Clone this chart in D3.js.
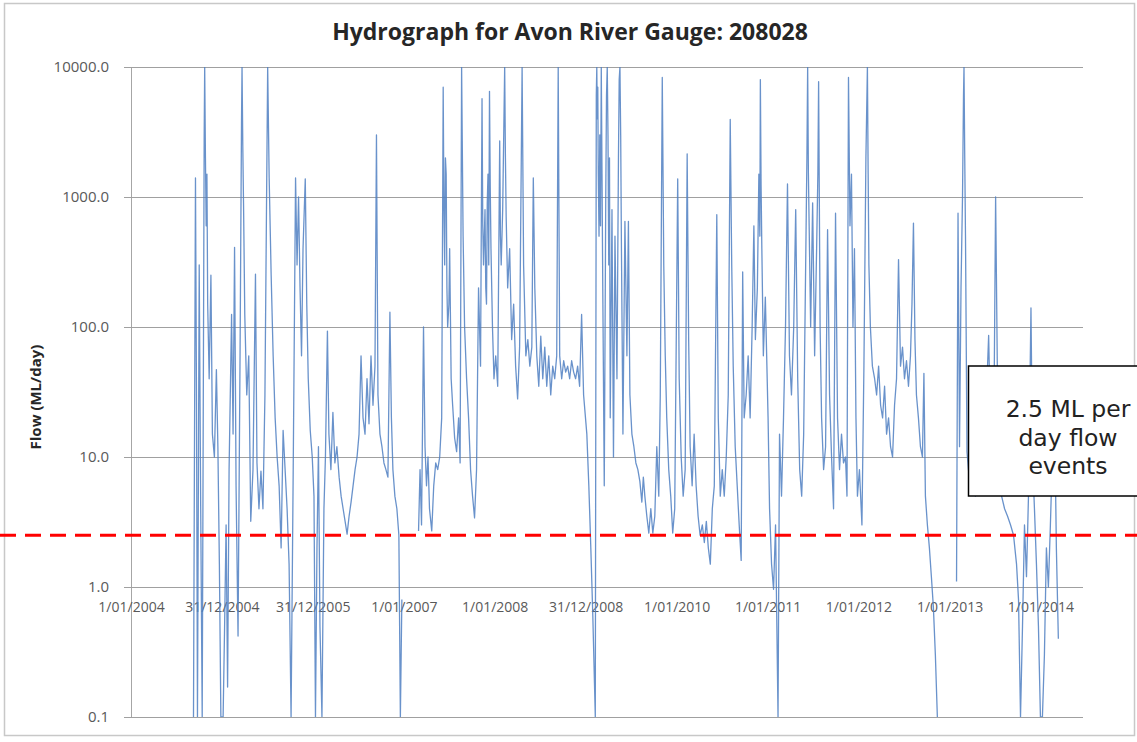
<!DOCTYPE html>
<html>
<head>
<meta charset="utf-8">
<script src="https://cdn.jsdelivr.net/npm/d3@7"></script>
<style>
  html, body { margin: 0; padding: 0; background: #fff; }
  svg { display: block; }
</style>
</head>
<body>
<svg id="chart" width="1137" height="742"></svg>
<script>
// ---- Data ----
const titleText = "Hydrograph for Avon River Gauge: 208028";
const yAxisTitle = "Flow (ML/day)";
const yTickValues = [0.1, 1, 10, 100, 1000, 10000];
const yTickLabels = ["0.1", "1.0", "10.0", "100.0", "1000.0", "10000.0"];
const xTickLabels = ["1/01/2004", "31/12/2004", "31/12/2005", "1/01/2007", "1/01/2008",
  "31/12/2008", "1/01/2010", "1/01/2011", "1/01/2012", "1/01/2013", "1/01/2014"];
const thresholdValue = 2.5;
const annotationLines = ["2.5 ML per", "day flow", "events"];

// daily flow (ML/day) samples per year: [MM-DD, flow]; null = no record
const flow2004 = [["09-08",0.1],["09-16",1400],["09-20",30],["09-24",0.1],["10-01",300],["10-07",4],
  ["10-13",0.1],["10-21",3000],["10-23",10000],["10-26",2000],["10-29",600],["11-01",1500],["11-04",150],
  ["11-10",40],["11-17",250],["11-23",15],
  ["12-01",10],["12-09",47],["12-15",12],["12-21",1.5],["12-27",0.1]];
const flow2005 = [["01-05",0.1],["01-11",0.5],["01-17",3],["01-23",0.17],["01-29",8],["02-08",125],
  ["02-14",15],["02-20",410],["02-26",6],["03-06",0.42],["03-14",60],["03-20",4000],["03-22",10000],
  ["03-25",2500],["03-28",900],
  ["04-02",125],["04-10",30],["04-18",60],["04-26",3.2],["05-05",8],["05-15",255],["05-21",9],
  ["05-29",4],["06-06",7.8],["06-14",4],["06-22",30],["07-03",10000],["07-09",1400],["07-17",250],
  ["07-25",60],["08-02",20],["08-10",10],["08-18",6],["08-26",2.0],["09-03",16],["09-11",8],
  ["09-19",4],["09-27",1.5],["10-05",0.1],["10-13",6],["10-23",1400],["10-29",300],["11-04",1000],
  ["11-10",200],["11-16",60],["11-22",400],["12-01",1380],["12-07",150],["12-13",40],["12-21",16],
  ["12-29",10]];
const flow2006 = [["01-05",5],["01-11",0.1],["01-17",2],["01-23",12],["01-29",0.5],["02-06",0.1],
  ["02-14",4],["02-20",10],["02-28",93],["03-06",15],["03-14",8],["03-22",22],["03-30",9],["04-07",12],
  ["04-16",7],["04-24",5],["05-02",4],["05-10",3.2],["05-18",2.55],["05-26",3.5],["06-03",4.5],
  ["06-11",6],["06-19",8],["06-27",10],["07-05",15],["07-13",60],["07-21",20],["07-29",15],["08-06",40],
  ["08-14",18],["08-22",60],["08-30",25],["09-07",50],["09-13",3000],["09-19",30],["09-27",15],
  ["10-05",12],["10-13",9],["10-21",8],["10-29",7],["11-06",130],["11-12",20],["11-18",8],["11-26",5],
  ["12-04",4],["12-12",2.5],["12-18",0.1],["12-24",0.8]];
const flow2007 = [["01-03",null],["03-01",2.7],["03-07",8],["03-13",3],["03-21",100],["03-27",12],
  ["04-02",6],["04-08",10],["04-14",4],["04-23",2.7],["05-01",6],["05-09",9],["05-17",8],["05-25",10],
  ["06-02",20],["06-08",7000],["06-11",800],["06-14",300],["06-17",2000],["06-20",1500],["06-23",200],
  ["06-26",100],["07-01",150],["07-04",400],["07-10",40],
  ["07-16",25],["07-24",14],["08-01",11],["08-09",20],["08-15",9],["08-21",10000],["08-27",500],
  ["09-02",100],["09-10",40],["09-18",20],["09-26",8],["10-04",5],["10-12",3.4],["10-20",8],["10-28",200],
  ["11-05",50],["11-11",5700],["11-14",600],["11-17",300],["11-23",800],["11-26",200],["11-29",150],
  ["12-02",900],["12-05",1500],["12-08",300],["12-11",6500],["12-14",1200],
  ["12-17",400],["12-23",100],["12-29",40]];
const flow2008 = [["01-05",60],["01-13",35],["01-21",2700],["01-24",500],["01-27",300],["02-02",800],
  ["02-10",10000],["02-13",2000],
  ["02-16",700],["02-22",200],["03-01",400],["03-09",80],["03-17",150],["03-25",50],["04-02",28],
  ["04-10",70],["04-20",10000],["04-26",300],["05-05",60],["05-13",80],["05-21",50],["05-29",70],
  ["06-04",1400],["06-10",200],["06-18",60],["06-26",35],["07-04",85],["07-12",40],["07-20",70],
  ["07-28",35],["08-05",60],["08-13",30],["08-21",50],["08-29",40],["09-06",60],["09-12",10000],
  ["09-18",60],["09-26",40],["10-04",55],["10-12",45],["10-20",50],["10-28",40],["11-05",55],
  ["11-13",45],["11-21",40],["11-29",50],["12-07",35],["12-15",125],["12-23",30]];
const flow2009 = [["01-05",15],["01-13",6],["01-21",2],["01-29",0.6],["02-08",0.1],["02-12",6000],
  ["02-14",10000],["02-16",4000],["02-18",7000],["02-20",1500],["02-23",500],["02-26",3000],
  ["03-01",600],["03-04",10000],["03-07",1500],["03-10",200],["03-16",6],["03-22",1000],
  ["03-25",6000],["03-28",10000],["03-31",3000],["04-03",300],["04-06",2000],["04-09",20],
  ["04-16",800],["04-22",10],["04-28",500],["05-06",40],["05-12",2000],
  ["05-15",8000],["05-18",10000],["05-21",3000],["05-24",400],["05-30",15],["06-07",650],["06-15",60],
  ["06-21",650],["06-27",30],
  ["07-05",15],["07-13",12],["07-21",9],["07-29",8],["08-06",6.5],["08-14",4.5],["08-20",7],["08-26",5],
  ["09-03",3.5],["09-11",2.6],["09-19",4],["09-27",2.6],["10-05",3.5],["10-13",12],["10-21",5],
  ["10-27",30],["11-04",8300],["11-10",300],["11-16",60],["11-22",20],["11-30",8],["12-08",5],
  ["12-16",2.6],["12-24",4]];
const flow2010 = [["01-05",1380],["01-11",40],["01-19",10],["01-27",5],["02-04",8],["02-12",2150],
  ["02-18",80],["02-24",12],["03-04",6],["03-12",15],["03-20",6],["03-28",3.5],["04-05",2.5],["04-14",3],
  ["04-22",2.2],["04-30",3.2],["05-08",2],["05-16",1.5],["05-24",4],["06-01",6],["06-11",730],["06-17",20],
  ["06-25",5],["07-03",8],["07-11",5],["07-19",10],["07-27",30],["08-04",3950],["08-10",300],["08-16",50],
  ["08-24",12],["09-01",6],["09-09",3],["09-17",1.6],["09-23",265],["09-29",20],["10-07",30],["10-15",60],
  ["10-23",20],["10-31",100],["11-07",600],["11-13",80],["11-21",200],["11-27",1500],["12-01",500],
  ["12-03",8000],["12-06",1200],
  ["12-09",400],["12-15",60],["12-23",170]];
const flow2011 = [["01-03",20],["01-09",4],["01-17",1.5],["01-25",0.96],["02-02",3],["02-12",0.1],
  ["02-18",15],["02-26",5],["03-06",20],["03-14",100],["03-22",1260],["03-30",60],["04-07",30],
  ["04-16",100],["04-24",800],["05-02",40],["05-10",8],["05-18",5],["05-26",15],["06-03",300],
  ["06-08",2000],["06-11",10000],["06-14",1500],["06-17",600],["06-23",100],["07-01",900],["07-09",60],
  ["07-17",400],["07-22",1500],["07-25",7700],
  ["07-31",100],["08-06",20],["08-14",8],["08-22",12],["08-30",560],["09-07",30],["09-15",10],["09-23",4],
  ["10-01",750],["10-09",20],["10-17",8],["10-25",15],["11-02",9],["11-10",10],["11-16",5],["11-22",8300],
  ["11-28",600],["12-04",1500],["12-10",100],["12-16",400],["12-22",20],["12-28",5]];
const flow2012 = [["01-05",8],["01-15",3],["01-23",50],["01-31",2000],["02-06",10000],["02-09",1500],
  ["02-12",300],
  ["02-18",100],["02-26",50],["03-06",40],["03-14",30],["03-22",50],["03-30",25],["04-07",20],["04-15",35],
  ["04-23",15],["05-01",20],["05-09",12],["05-17",10],["05-25",25],["06-02",40],["06-10",330],["06-18",50],
  ["06-26",70],["07-04",40],["07-12",55],["07-20",35],["07-28",60],["08-03",150],["08-09",630],["08-15",80],
  ["08-21",30],["08-29",20],["09-06",12],["09-14",10],["09-20",44],["09-26",5],["10-04",3],["10-12",2],
  ["10-20",1.2],["10-28",0.7],["11-05",0.3],["11-13",0.1],["12-01",null]];
const flow2013 = [["01-29",1.1],["02-04",750],["02-10",12],["02-16",200],["02-22",1000],["02-26",6000],
  ["02-28",10000],["03-03",2000],
  ["03-06",500],["03-12",11],["03-18",8],["03-26",6],["04-15",5],["05-05",8],["05-26",20],["06-07",86],
  ["06-15",15],["06-27",10],["07-05",1000],["07-13",30],["07-21",8],["07-29",5],["08-10",4],["08-22",3.5],
  ["09-03",3],["09-15",2.5],["09-27",1.5],["10-05",0.8],["10-13",0.1],["10-21",0.5],["10-29",3],
  ["11-06",1.2],["11-14",5],["11-24",140],["11-30",10],["12-08",4],["12-16",1.5],["12-24",0.5]];
const flow2014 = [["01-01",0.1],["01-09",0.1],["01-17",0.3],["01-25",2],["02-02",1],["02-10",3],
  ["02-18",10],["02-26",30],["03-06",2],["03-14",0.4]];

const flowByYear = [[2004, flow2004], [2005, flow2005], [2006, flow2006], [2007, flow2007],
  [2008, flow2008], [2009, flow2009], [2010, flow2010], [2011, flow2011], [2012, flow2012],
  [2013, flow2013], [2014, flow2014]];

// ---- Build ----
const parseISO = d3.timeParse("%Y-%m-%d");
const parseLabel = d3.timeParse("%d/%m/%Y");
const series = [];
flowByYear.forEach(([yr, arr]) => arr.forEach(([md, v]) => series.push({ date: parseISO(yr + "-" + md), value: v })));

const svg = d3.select("#chart");
const W = 1137, H = 742;
const plot = { left: 131, right: 1083, top: 67, bottom: 717 };

const x = d3.scaleTime()
  .domain([parseISO("2004-01-01"), parseISO("2014-06-21")])
  .range([plot.left, plot.right]);
const y = d3.scaleLog().domain([0.1, 10000]).range([plot.bottom, plot.top]);

// outer chart border
svg.append("rect").attr("x", 4.5).attr("y", 3.5).attr("width", 1130).attr("height", 732)
  .attr("fill", "#fff").attr("stroke", "#c8c8c8").attr("stroke-width", 1.5);

// title
svg.append("text").attr("x", 570).attr("y", 40).attr("text-anchor", "middle")
  .attr("font-family", "'Open Sans', sans-serif").attr("font-weight", "bold")
  .attr("font-size", 23).attr("fill", "#262626").text(titleText);

// y axis title
svg.append("text").attr("transform", "translate(41,397) rotate(-90)").attr("text-anchor", "middle")
  .attr("font-family", "'Open Sans', sans-serif").attr("font-weight", "bold")
  .attr("font-size", 15).attr("fill", "#262626").text(yAxisTitle);

// y axis with gridlines
const yAxis = d3.axisLeft(y).tickValues(yTickValues)
  .tickFormat((d, i) => yTickLabels[i])
  .tickSizeInner(-(plot.right - plot.left)).tickSizeOuter(0).tickPadding(22);
const gy = svg.append("g").attr("transform", `translate(${plot.left},0)`).call(yAxis);
gy.select(".domain").attr("stroke", "#a6a6a6");
gy.selectAll(".tick line").attr("stroke", "#a0a0a0").attr("x1", -7);
gy.selectAll(".tick text").attr("font-family", "'Open Sans', sans-serif").attr("font-size", 15)
  .attr("fill", "#595959");

// x axis (crosses at 1.0)
const xTickDates = xTickLabels.map(s => parseLabel(s));
const xAxis = d3.axisBottom(x).tickValues(xTickDates)
  .tickFormat((d, i) => xTickLabels[i]).tickSize(0).tickPadding(15);
const gx = svg.append("g").attr("transform", `translate(0,${y(1)})`).call(xAxis);
gx.select(".domain").remove();
gx.selectAll(".tick text").attr("font-family", "'Open Sans', sans-serif").attr("font-size", 14)
  .attr("fill", "#595959");

// flow line
svg.append("clipPath").attr("id", "clip").append("rect")
  .attr("x", plot.left).attr("y", plot.top).attr("width", plot.right - plot.left)
  .attr("height", plot.bottom - plot.top);
const line = d3.line().defined(d => d.value != null)
  .x(d => x(d.date)).y(d => y(Math.max(0.1, d.value)));
svg.append("path").datum(series).attr("clip-path", "url(#clip)")
  .attr("fill", "none").attr("stroke", "#4F7FC2").attr("stroke-width", 1.3)
  .attr("stroke-opacity", 0.85).attr("stroke-linejoin", "round").attr("d", line);

// threshold line (2.5 ML/day), spans the whole figure
svg.append("line").attr("x1", 0).attr("x2", W)
  .attr("y1", y(thresholdValue)).attr("y2", y(thresholdValue))
  .attr("stroke", "#ff0000").attr("stroke-width", 3).attr("stroke-dasharray", "16,9");

// annotation box
const box = svg.append("g");
box.append("rect").attr("x", 968.5).attr("y", 366).attr("width", 180).attr("height", 130)
  .attr("fill", "#fff").attr("stroke", "#000").attr("stroke-width", 1.5);
annotationLines.forEach((t, i) => {
  box.append("text").attr("x", 1068).attr("y", 417 + i * 28.5).attr("text-anchor", "middle")
    .attr("font-family", "'DejaVu Sans', sans-serif").attr("font-size", 23.5)
    .attr("fill", "#222").text(t);
});
</script>
</body>
</html>
